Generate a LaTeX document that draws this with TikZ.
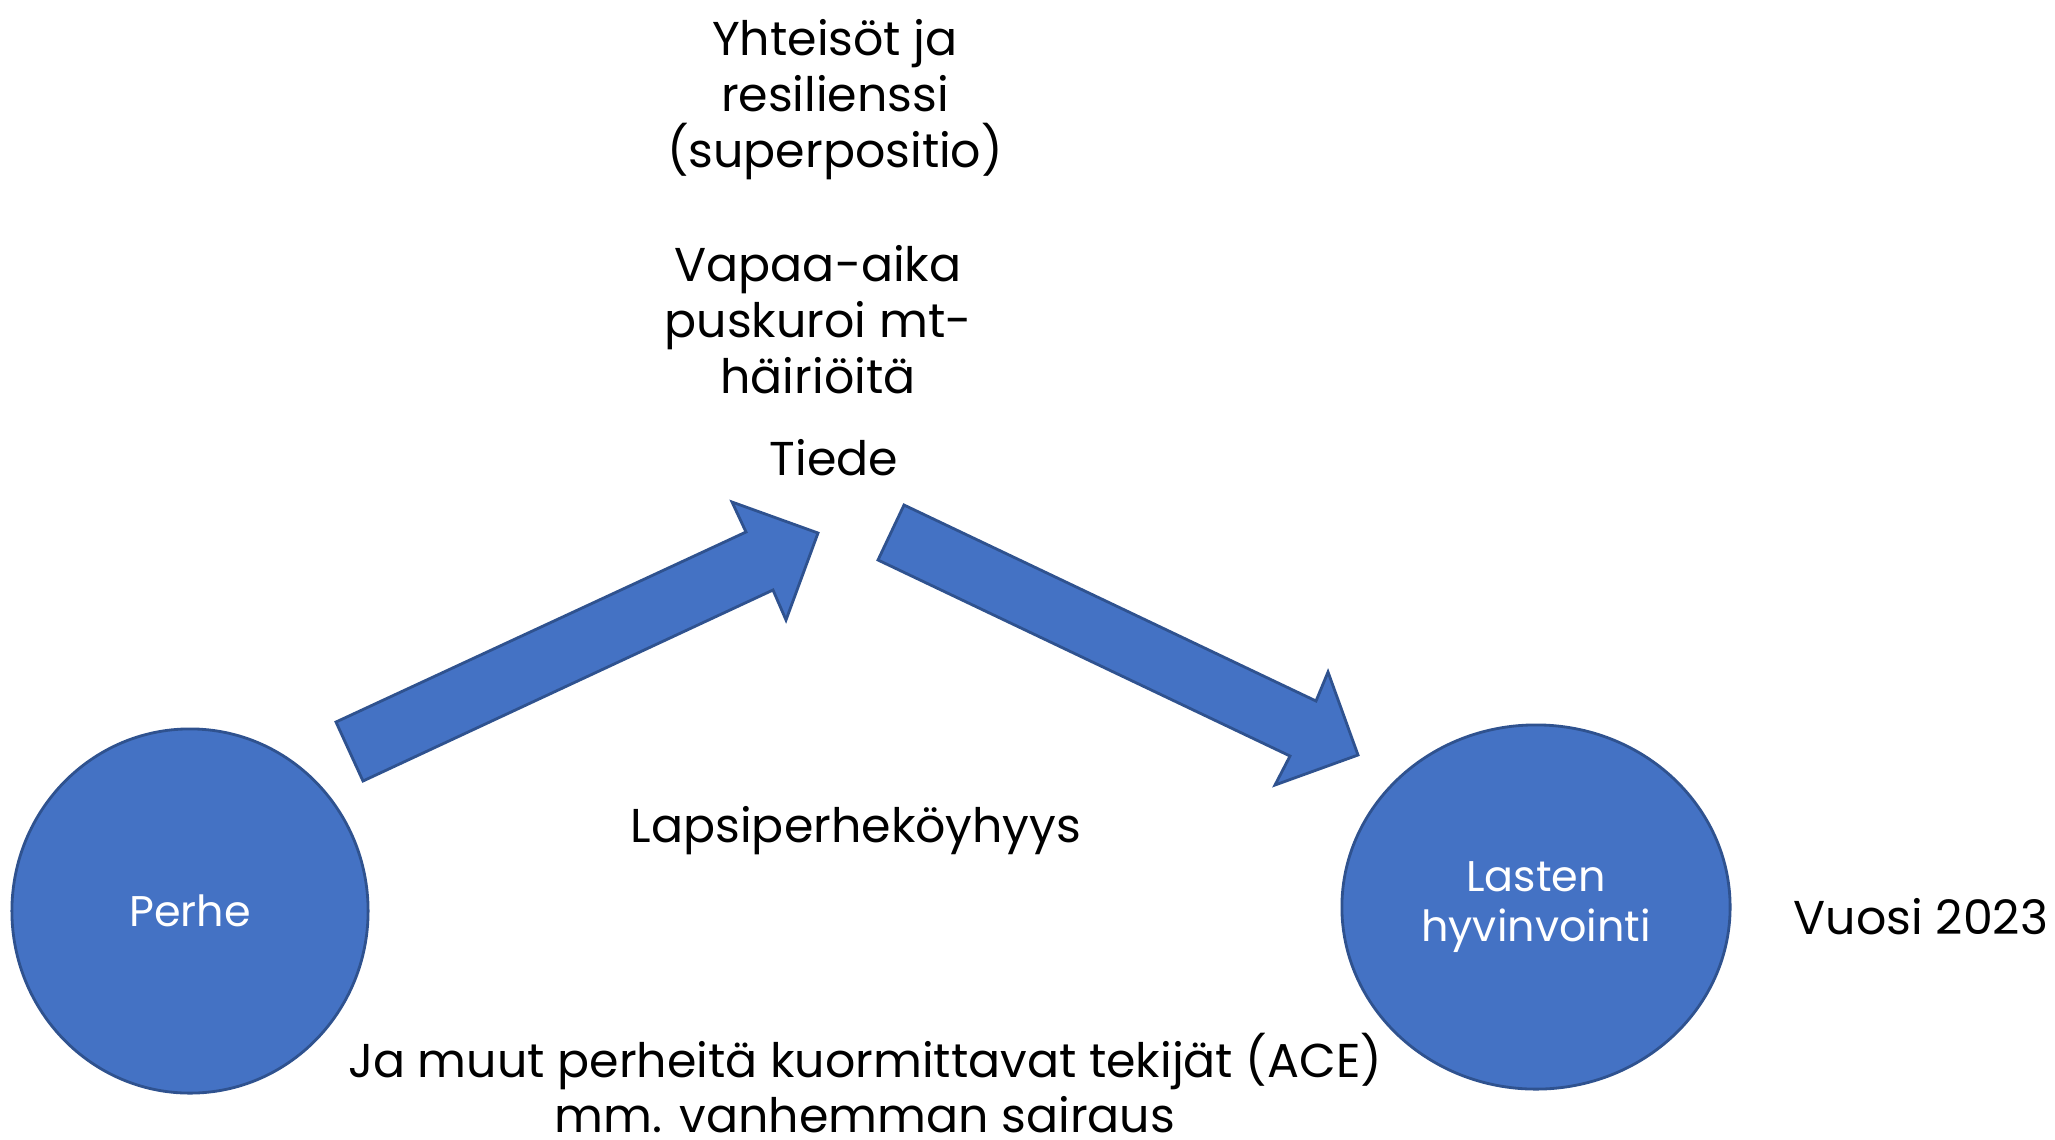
\documentclass[tikz,border=0pt]{standalone}
\usepackage{fontspec}
\setmainfont{Poppins}
\usetikzlibrary{shapes.geometric}
\definecolor{ofblue}{HTML}{4472C4}
\definecolor{ofborder}{HTML}{2F528F}
\tikzset{
  blob/.style={ellipse, fill=ofblue, draw=ofborder, line width=0.8pt, text=white, align=center, inner sep=0pt, font=\fontsize{12.2pt}{14.4pt}\selectfont},
  lbl/.style={align=center, inner sep=0pt, text=black},
  blockarrow/.style={fill=ofblue, draw=ofborder, line width=0.8pt, line join=miter},
}
\begin{document}
\begin{tikzpicture}[x=0.01cm, y=-0.01cm, font=\fontsize{13.5pt}{15.9pt}\selectfont]
\useasboundingbox (0,0) rectangle (2055,1139);
% circles
\node[blob, minimum width=3.56cm, minimum height=3.64cm] (perhe) at (190,911) {Perhe};
\node[blob, minimum width=3.88cm, minimum height=3.64cm] (lasten) at (1536,907) {Lasten\\hyvinvointi};
% block arrows
\draw[blockarrow] (336,722) -- (746,532) -- (732,502) -- (818,533) -- (786,620) -- (773,590) -- (363,781) -- cycle;
\draw[blockarrow] (904,505) -- (1316,701) -- (1328,672) -- (1358,755) -- (1275,785) -- (1290,756) -- (878,560) -- cycle;
% labels
\node[lbl] (yht) at (835,100) {Yhteisöt ja\\resilienssi\\(superpositio)};
\node[lbl] (vapaa) at (818,320) {Vapaa-aika\\puskuroi mt-\\häiriöitä};
\node[lbl] (tiede) at (834,458) {Tiede};
\node[lbl] (lapsi) at (856,831) {Lapsiperheköyhyys};
\node[lbl] (vuosi) at (1921,917) {Vuosi 2023};
\node[lbl] (ace) at (865,1083) {Ja muut perheitä kuormittavat tekijät (ACE)\\mm. vanhemman sairaus};
\end{tikzpicture}
\end{document}
